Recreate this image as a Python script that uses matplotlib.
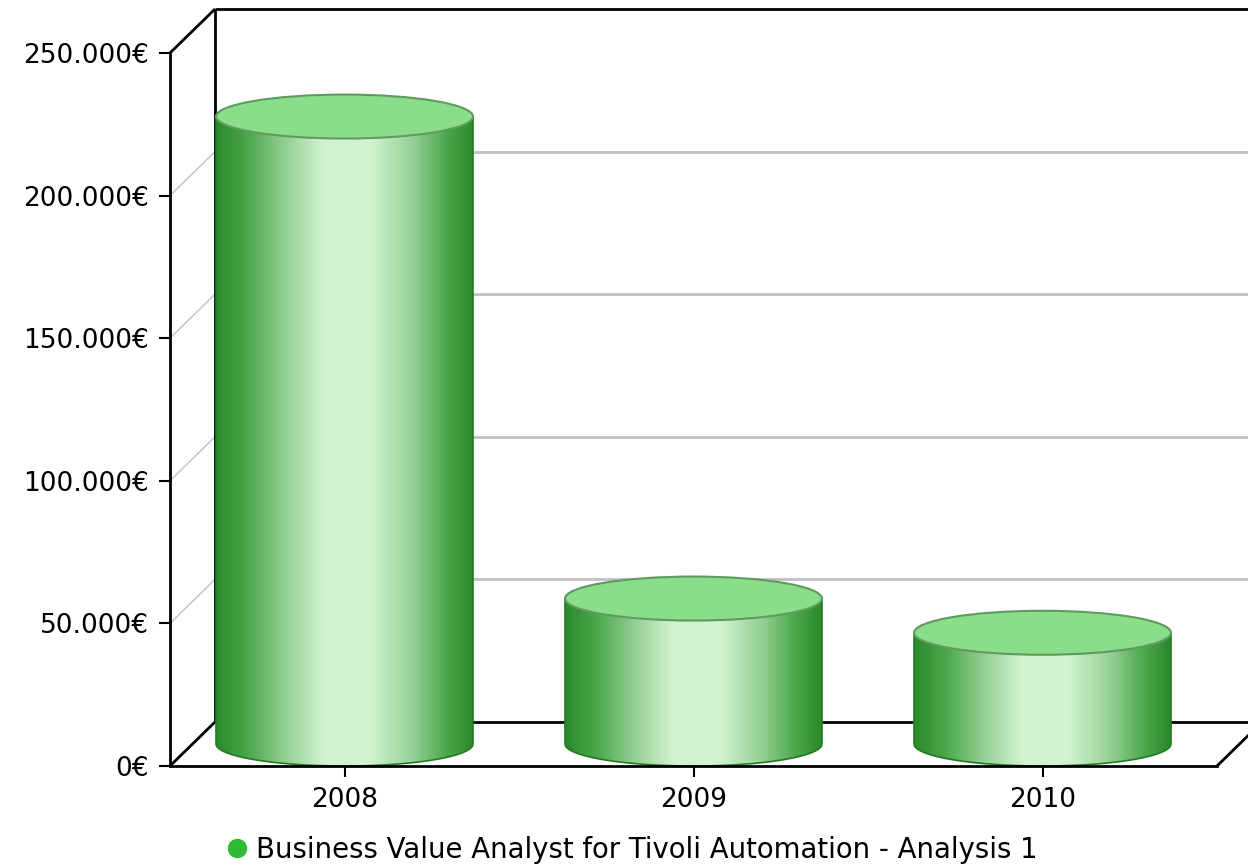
import numpy as np
import matplotlib
matplotlib.use("Agg")
import matplotlib.pyplot as plt
from matplotlib.patches import Ellipse, PathPatch
from matplotlib.path import Path
from matplotlib.lines import Line2D
from matplotlib.colors import LinearSegmentedColormap

years = ["2008", "2009", "2010"]
values = [220000, 51000, 39000]
series_name = "Business Value Analyst for Tivoli Automation - Analysis 1"
y_ticks = [0, 50000, 100000, 150000, 200000, 250000]

W, H = 1248, 866
fig = plt.figure(figsize=(W / 100, H / 100), dpi=100)
plt.rcParams['font.family'] = ['DejaVu Sans']

# front plane of the 3d plot, in pixels
left, right, bottom, top = 170, 1217, 766, 53
ax = fig.add_axes([left / W, (H - bottom) / H, (right - left) / W, (bottom - top) / H])
ax.set_xlim(-0.5, 2.5)
ax.set_ylim(0, 250000)

# depth of the 3d effect, converted from pixels to data units
px_x = 3.0 / (right - left)
px_y = 250000.0 / (bottom - top)
dx = 45 * px_x
dy = 44 * px_y
x0, x1 = -0.5, 2.5
ymax = 250000

black = dict(color='black', lw=2, clip_on=False, solid_capstyle='butt')
grey = dict(color='#c0c0c0', lw=2, clip_on=False, solid_capstyle='butt')

# back wall gridlines and left wall diagonals
for t in y_ticks[1:-1]:
    ax.plot([x0 + dx, x1 + dx], [t + dy, t + dy], zorder=1, **grey)
    ax.plot([x0, x0 + dx], [t, t + dy], zorder=1, color='#c8c8c8', lw=1.2, clip_on=False)

# frame of the back wall and floor
ax.plot([x0 + dx, x1 + dx], [ymax + dy, ymax + dy], zorder=1, **black)
ax.plot([x0 + dx, x0 + dx], [dy, ymax + dy], zorder=1, **black)
ax.plot([x0 + dx, x1 + dx], [dy, dy], zorder=1, **black)
ax.plot([x0, x0 + dx], [ymax, ymax + dy], zorder=1, **black)
ax.plot([x0, x0 + dx], [0, dy], zorder=1, **black)
ax.plot([x1, x1 + dx], [0, dy], zorder=1, **black)

# cylinders
bar_w = 257 * px_x
side_cmap = LinearSegmentedColormap.from_list("side", [
    (0.0, "#2a8a2a"), (0.12, "#4ba64b"), (0.28, "#98d298"), (0.42, "#d2f3d2"),
    (0.6, "#d2f3d2"), (0.76, "#98d298"), (0.9, "#4ba64b"), (1.0, "#2a8a2a")])
grad = side_cmap(np.linspace(0, 1, 256))[np.newaxis, :, :3]

for i, v in enumerate(values):
    cx = i
    a, b = cx - bar_w / 2, cx + bar_w / 2
    base = dy / 2
    topc = v + dy / 2
    t = np.linspace(0, np.pi, 60)
    lower = np.column_stack([cx + bar_w / 2 * np.cos(t), base - dy / 2 * np.sin(t)])
    verts = np.vstack([[a, base], [a, topc], [b, topc], [b, base], lower, [[a, base]]])
    side = PathPatch(Path(verts), facecolor='none', edgecolor='#237a23', lw=1.2, zorder=4)
    ax.add_patch(side)
    im = ax.imshow(grad, extent=[a, b, 0, topc], aspect='auto', zorder=3,
                   interpolation='bilinear')
    im.set_clip_path(side)
    ax.add_patch(Ellipse((cx, topc), bar_w, dy, facecolor='#8ade8a',
                         edgecolor='#5f9a5f', lw=1.5, zorder=5))

ax.set_xlim(-0.5, 2.5)
ax.set_ylim(0, 250000)

# axes
for s in ['top', 'right']:
    ax.spines[s].set_visible(False)
for s in ['left', 'bottom']:
    ax.spines[s].set_linewidth(2)
    ax.spines[s].set_zorder(6)
ax.set_facecolor('none')
ax.set_xticks(range(len(years)))
ax.set_xticklabels(years)
ax.set_yticks(y_ticks)
ax.set_yticklabels(["0€" if t == 0 else f"{t // 1000}.000€" for t in y_ticks])
ax.tick_params(axis='both', direction='out', length=8, width=1.5, labelsize=19,
               pad=7, colors='black')

handle = Line2D([], [], marker='o', linestyle='none', markersize=13,
                markerfacecolor='#2fbb2f', markeredgecolor='#2fbb2f')
fig.legend([handle], [series_name], loc='center', bbox_to_anchor=(0.505, 0.019),
           frameon=False, fontsize=19.8, handletextpad=0.2, handlelength=1.0,
           borderpad=0)

fig.savefig("out.png", dpi=100)
